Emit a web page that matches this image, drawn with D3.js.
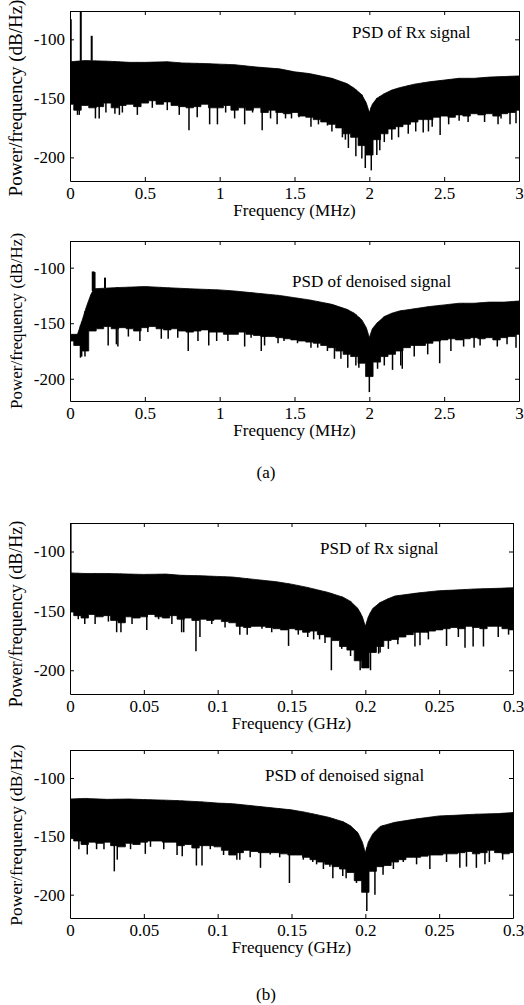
<!DOCTYPE html>
<html>
<head>
<meta charset="utf-8">
<script src="https://cdn.jsdelivr.net/npm/d3@7"></script>
<style>
  body { margin: 0; background: #fff; }
  text { font-family: "Liberation Serif", "Times New Roman", serif; }
</style>
</head>
<body>
<script>
// tick labels
var ticksMHz = [0, 0.5, 1, 1.5, 2, 2.5, 3];
var ticksGHz = [0, 0.05, 0.1, 0.15, 0.2, 0.25, 0.3];
var ticksDb = [-200, -150, -100];
var dbRange = [-220, -76];

// (a) Rx, MHz : upper envelope of the PSD band
var rxMhzUpperF = [0, 0.1, 0.25, 0.4, 0.5, 0.65, 0.75, 0.9, 1.0, 1.1, 1.25, 1.4, 1.5, 1.6, 1.75, 1.85, 1.9, 1.95, 1.98, 2.0, 2.02, 2.05, 2.1, 2.15, 2.2, 2.3, 2.4, 2.5, 2.6, 2.7, 2.8, 2.9, 3.0];
var rxMhzUpperV = [-119, -118, -118.5, -119.5, -119.5, -119, -120, -120.5, -121, -121.5, -123.5, -125, -127.5, -129, -133, -137.5, -141.5, -147, -154, -162, -155, -150, -146, -143, -141, -138, -136, -134.5, -133, -133, -132, -131.5, -131];
// lower edge, one value every 0.05 MHz
var rxMhzLower = [-155, -160, -156, -158, -157, -154, -158, -156, -155, -157, -154, -152, -155, -153, -156, -157, -158, -157, -155, -158,
  -158, -156, -160, -158, -160, -158, -162, -160, -162, -163, -162, -165, -166, -168, -170, -172, -175, -180, -183, -190,
  -198, -185, -180, -176, -174, -172, -170, -168, -168, -166, -165, -166, -164, -165, -163, -164, -163, -165, -163, -162, -160];
var rxMhzDipF = [0.05, 0.062, 0.17, 0.195, 0.24, 0.3, 0.33, 0.35, 0.45, 0.55, 0.65, 0.73, 0.795, 0.85, 0.933, 0.985, 1.04, 1.1, 1.167, 1.22, 1.284, 1.34, 1.384, 1.44, 1.48, 1.53,
  1.61, 1.66, 1.72, 1.75, 1.82, 1.84, 1.86, 1.91, 1.95, 1.973, 2.013, 2.05, 2.07, 2.1, 2.15, 2.195, 2.26, 2.31, 2.36, 2.395, 2.42, 2.473, 2.53, 2.6, 2.66, 2.77, 2.86, 2.88, 2.94, 2.98];
var rxMhzDipV = [-164, -164, -167, -167, -162, -163, -164, -162, -164, -158, -160, -164, -177, -166, -172, -172, -162, -167, -172, -162, -177, -167, -172, -167, -167, -166,
  -174, -172, -173, -178, -183, -185, -192, -199, -201, -209, -211, -198, -194, -187, -185, -183, -180, -178, -179, -178, -174, -181, -172, -169, -170, -170, -172, -167, -172, -171];
var rxMhzPeakF = [0.005, 0.072, 0.145];
var rxMhzPeakV = [-83, -60, -97];

// (a) denoised, MHz
var dnMhzUpperF = [0, 0.05, 0.08, 0.11, 0.14, 0.16, 0.3, 0.5, 0.65, 0.8, 1.0, 1.1, 1.25, 1.4, 1.5, 1.6, 1.75, 1.85, 1.9, 1.95, 1.98, 2.0, 2.02, 2.05, 2.1, 2.15, 2.2, 2.3, 2.4, 2.5, 2.6, 2.7, 2.8, 2.9, 3.0];
var dnMhzUpperV = [-160, -160, -148, -135, -124, -119, -118, -117, -118, -119, -120, -121, -123, -125, -127, -129, -133, -137.5, -141, -147, -154, -163, -155, -150, -144, -141, -139, -137, -135, -133.5, -132, -132, -131, -131, -130];
var dnMhzLower = [-166, -170, -175, -157, -155, -153, -155, -154, -155, -157, -154, -153, -155, -156, -155, -157, -158, -157, -156, -158,
  -158, -160, -160, -158, -160, -161, -162, -162, -163, -164, -165, -166, -167, -168, -170, -172, -175, -178, -180, -186,
  -198, -185, -180, -178, -175, -172, -170, -170, -168, -166, -165, -164, -165, -164, -163, -164, -163, -165, -163, -162, -160];
var dnMhzDipF = [0.07, 0.078, 0.1, 0.255, 0.31, 0.32, 0.39, 0.467, 0.52, 0.61, 0.656, 0.72, 0.79, 0.855, 0.927, 0.98, 1.055, 1.167, 1.21, 1.278, 1.3, 1.39, 1.43, 1.52,
  1.61, 1.655, 1.72, 1.767, 1.81, 1.856, 1.91, 1.93, 2.0, 2.055, 2.1, 2.155, 2.21, 2.22, 2.3, 2.39, 2.47, 2.545, 2.63, 2.7, 2.74, 2.855, 2.92, 2.98];
var dnMhzDipV = [-181, -180, -180, -170, -169, -171, -162, -166, -158, -164, -164, -163, -175, -166, -170, -166, -166, -171, -163, -175, -170, -168, -166, -168,
  -172, -172, -175, -182, -182, -190, -188, -190, -212, -191, -188, -192, -188, -191, -180, -178, -186, -175, -171, -172, -170, -171, -169, -172];
var dnMhzPeakF = [0.152, 0.158, 0.164, 0.234];
var dnMhzPeakV = [-103.5, -103.5, -104, -109];

// (b) Rx, GHz
var rxGhzUpperF = [0, 0.01, 0.025, 0.04, 0.05, 0.065, 0.075, 0.09, 0.1, 0.11, 0.125, 0.14, 0.15, 0.16, 0.175, 0.185, 0.19, 0.195, 0.198, 0.2, 0.202, 0.205, 0.21, 0.215, 0.22, 0.235, 0.25, 0.26, 0.275, 0.29, 0.3];
var rxGhzUpperV = [-118, -118.5, -118.5, -119, -119.3, -119, -120, -120.5, -121, -121.5, -123.5, -125.5, -127.5, -130, -134.5, -138.5, -142, -148, -155, -163, -155, -148, -143, -140, -137.5, -135, -133, -132.5, -131.5, -131, -130.5];
// lower edge, one value every 0.005 GHz
var rxGhzLower = [-151, -154, -156, -153, -155, -154, -158, -160, -155, -156, -155, -153, -155, -156, -154, -157, -156, -158, -157, -158,
  -157, -159, -160, -163, -164, -163, -163, -164, -165, -166, -165, -166, -168, -167, -170, -172, -175, -180, -183, -192,
  -198, -185, -180, -175, -174, -172, -170, -168, -168, -167, -166, -165, -164, -165, -163, -164, -165, -163, -163, -165, -166];
var rxGhzDipF = [0.0056, 0.01, 0.017, 0.026, 0.0316, 0.0345, 0.042, 0.052, 0.06, 0.069, 0.0756, 0.077, 0.0853, 0.088, 0.096, 0.105, 0.115, 0.12, 0.13, 0.1366, 0.148, 0.1546,
  0.161, 0.165, 0.169, 0.1727, 0.177, 0.184, 0.19, 0.1965, 0.2035, 0.209, 0.21, 0.2156, 0.222, 0.2336, 0.237, 0.2427, 0.255, 0.263, 0.2675, 0.273, 0.28, 0.29, 0.297];
var rxGhzDipV = [-157, -161, -161, -159, -168, -168, -161, -166, -157, -161, -168, -168, -184, -172, -161, -164, -170, -170, -165, -168, -179.5, -170,
  -172, -174, -174, -177, -200, -182, -188, -200, -200, -186, -185, -182, -178, -180, -179, -174, -179.5, -172, -181, -180, -180, -172, -170];
var rxGhzPeakF = [0.0004];
var rxGhzPeakV = [-76];

// (b) denoised, GHz
var dnGhzUpperF = [0, 0.01, 0.025, 0.04, 0.05, 0.065, 0.075, 0.09, 0.1, 0.11, 0.125, 0.14, 0.15, 0.16, 0.175, 0.185, 0.19, 0.195, 0.198, 0.2, 0.202, 0.205, 0.21, 0.22, 0.235, 0.25, 0.26, 0.275, 0.29, 0.3];
var dnGhzUpperV = [-118, -117.5, -118.3, -118, -118.5, -119, -119.5, -120.5, -121.5, -122, -124, -126, -127.3, -129.5, -133.6, -137.5, -141, -147, -155, -164, -155, -148, -141.5, -138, -135, -132.5, -132, -131, -130.5, -129.6];
var dnGhzLower = [-152, -154, -157, -155, -156, -155, -158, -159, -156, -157, -155, -154, -154, -155, -155, -158, -157, -160, -158, -158,
  -159, -162, -166, -164, -162, -163, -164, -164, -164, -165, -166, -166, -168, -170, -172, -174, -176, -178, -181, -188,
  -198, -180, -176, -175, -172, -170, -168, -168, -167, -166, -166, -165, -165, -164, -163, -165, -164, -162, -164, -165, -164];
var dnGhzDipF = [0.006, 0.0117, 0.018, 0.023, 0.03, 0.032, 0.041, 0.051, 0.0545, 0.0635, 0.0725, 0.076, 0.0856, 0.0894, 0.095, 0.104, 0.113, 0.115, 0.122, 0.129, 0.1356, 0.142,
  0.1486, 0.158, 0.1644, 0.167, 0.1716, 0.176, 0.178, 0.1847, 0.187, 0.194, 0.201, 0.2065, 0.212, 0.219, 0.2257, 0.2347, 0.2437, 0.255, 0.264, 0.2685, 0.2752, 0.281, 0.284, 0.293];
var dnGhzDipV = [-161, -165.5, -161, -161, -180, -170, -161, -165, -159, -161, -166, -167, -175, -175, -161, -166, -170, -170, -168, -177, -165.5, -168,
  -190, -170, -172, -174, -178, -176, -186, -184, -186, -190, -214, -200, -183, -178, -172, -174, -178, -172, -177, -176, -177, -174, -172, -170];
var dnGhzPeakF = [];
var dnGhzPeakV = [];

var panels = [
  { top: 11, bottom: 181, right: 519, xMax: 3, ticks: ticksMHz, xLabel: "Frequency (MHz)", title: "PSD of Rx signal", tx: 352, ty: 38,
    ySize: 19, yMid: 98, upF: rxMhzUpperF, upV: rxMhzUpperV, low: rxMhzLower, dipF: rxMhzDipF, dipV: rxMhzDipV, pkF: rxMhzPeakF, pkV: rxMhzPeakV },
  { top: 241, bottom: 401, right: 519, xMax: 3, ticks: ticksMHz, xLabel: "Frequency (MHz)", title: "PSD of denoised signal", tx: 292, ty: 287,
    ySize: 17, yMid: 321, upF: dnMhzUpperF, upV: dnMhzUpperV, low: dnMhzLower, dipF: dnMhzDipF, dipV: dnMhzDipV, pkF: dnMhzPeakF, pkV: dnMhzPeakV },
  { top: 523, bottom: 694, right: 513, xMax: 0.3, ticks: ticksGHz, xLabel: "Frequency (GHz)", title: "PSD of Rx signal", tx: 320, ty: 554,
    ySize: 18, yMid: 614, upF: rxGhzUpperF, upV: rxGhzUpperV, low: rxGhzLower, dipF: rxGhzDipF, dipV: rxGhzDipV, pkF: rxGhzPeakF, pkV: rxGhzPeakV },
  { top: 750, bottom: 918, right: 513, xMax: 0.3, ticks: ticksGHz, xLabel: "Frequency (GHz)", title: "PSD of denoised signal", tx: 265, ty: 781,
    ySize: 17.5, yMid: 835, upF: dnGhzUpperF, upV: dnGhzUpperV, low: dnGhzLower, dipF: dnGhzDipF, dipV: dnGhzDipV, pkF: dnGhzPeakF, pkV: dnGhzPeakV }
];

var left = 70;
var svg = d3.select("body").append("svg")
  .attr("width", 524).attr("height", 1005)
  .style("display", "block");

panels.forEach(function(p, k) {
  var x = d3.scaleLinear().domain([0, p.xMax]).range([left, p.right]);
  var y = d3.scaleLinear().domain(dbRange).range([p.bottom, p.top]);
  var upperAt = d3.scaleLinear().domain(p.upF).range(p.upV).clamp(true);

  var g = svg.append("g");
  g.append("clipPath").attr("id", "clip" + k)
    .append("rect").attr("x", left).attr("y", p.top)
    .attr("width", p.right - left).attr("height", p.bottom - p.top);
  var plot = g.append("g").attr("clip-path", "url(#clip" + k + ")");

  // band: upper envelope left->right, lower edge back as steps
  var pts = p.upF.map(function(f, i) { return [f, p.upV[i]]; });
  var step = p.xMax / (p.low.length - 1), h = step / 2;
  for (var i = p.low.length - 1; i >= 0; i--) {
    var f = i * step;
    pts.push([Math.min(f + h, p.xMax), p.low[i]]);
    pts.push([Math.max(f - h, 0), p.low[i]]);
  }
  var line = d3.line().x(function(d) { return x(d[0]); }).y(function(d) { return y(d[1]); });
  plot.append("path").attr("d", line(pts) + "Z").attr("fill", "#000").attr("stroke", "#000").attr("stroke-width", 0.8);

  // narrow dips below the band
  plot.selectAll(".dip").data(p.dipF).enter().append("line")
    .attr("x1", function(d) { return x(d); }).attr("x2", function(d) { return x(d); })
    .attr("y1", function(d) { return y(upperAt(d)); })
    .attr("y2", function(d, i) { return y(p.dipV[i]); })
    .attr("stroke", "#000").attr("stroke-width", 1.5);

  // peaks above the band
  plot.selectAll(".pk").data(p.pkF).enter().append("line")
    .attr("x1", function(d) { return x(d); }).attr("x2", function(d) { return x(d); })
    .attr("y1", function(d) { return y(upperAt(d)); })
    .attr("y2", function(d, i) { return y(p.pkV[i]); })
    .attr("stroke", "#000").attr("stroke-width", 2);

  // axes, ticks pointing inwards as in matlab
  var ax = [
    g.append("g").attr("transform", "translate(0," + p.bottom + ")")
      .call(d3.axisBottom(x).tickValues(p.ticks).tickFormat(function(d) { return String(d); })
        .tickSizeInner(-4).tickSizeOuter(0).tickPadding(7)),
    g.append("g").attr("transform", "translate(" + left + ",0)")
      .call(d3.axisLeft(y).tickValues(ticksDb).tickFormat(function(d) { return String(d); })
        .tickSizeInner(-4).tickSizeOuter(0).tickPadding(5)),
    g.append("g").attr("transform", "translate(0," + p.top + ")")
      .call(d3.axisTop(x).tickValues(p.ticks).tickFormat("").tickSizeInner(-4).tickSizeOuter(0)),
    g.append("g").attr("transform", "translate(" + p.right + ",0)")
      .call(d3.axisRight(y).tickValues(ticksDb).tickFormat("").tickSizeInner(-4).tickSizeOuter(0))
  ];
  ax.forEach(function(a) {
    a.selectAll("path, line").attr("stroke", "#000");
    a.selectAll("text").attr("fill", "#000")
      .style("font-family", '"Liberation Serif", "Times New Roman", serif')
      .style("font-size", "17px");
  });
  ax[0].selectAll("text").attr("dy", null).attr("y", 18);

  g.append("text")
    .attr("x", (left + p.right) / 2).attr("y", p.bottom + 35)
    .attr("text-anchor", "middle").style("font-size", "17px")
    .text(p.xLabel);

  g.append("text")
    .attr("transform", "translate(22," + p.yMid + ") rotate(-90)")
    .attr("text-anchor", "middle").style("font-size", p.ySize + "px")
    .text("Power/frequency (dB/Hz)");

  g.append("text")
    .attr("x", p.tx).attr("y", p.ty).style("font-size", "17px")
    .text(p.title);
});

svg.append("text").attr("x", 266).attr("y", 478).attr("text-anchor", "middle")
  .style("font-size", "17px").text("(a)");
svg.append("text").attr("x", 266).attr("y", 1000).attr("text-anchor", "middle")
  .style("font-size", "17px").text("(b)");
</script>
</body>
</html>
